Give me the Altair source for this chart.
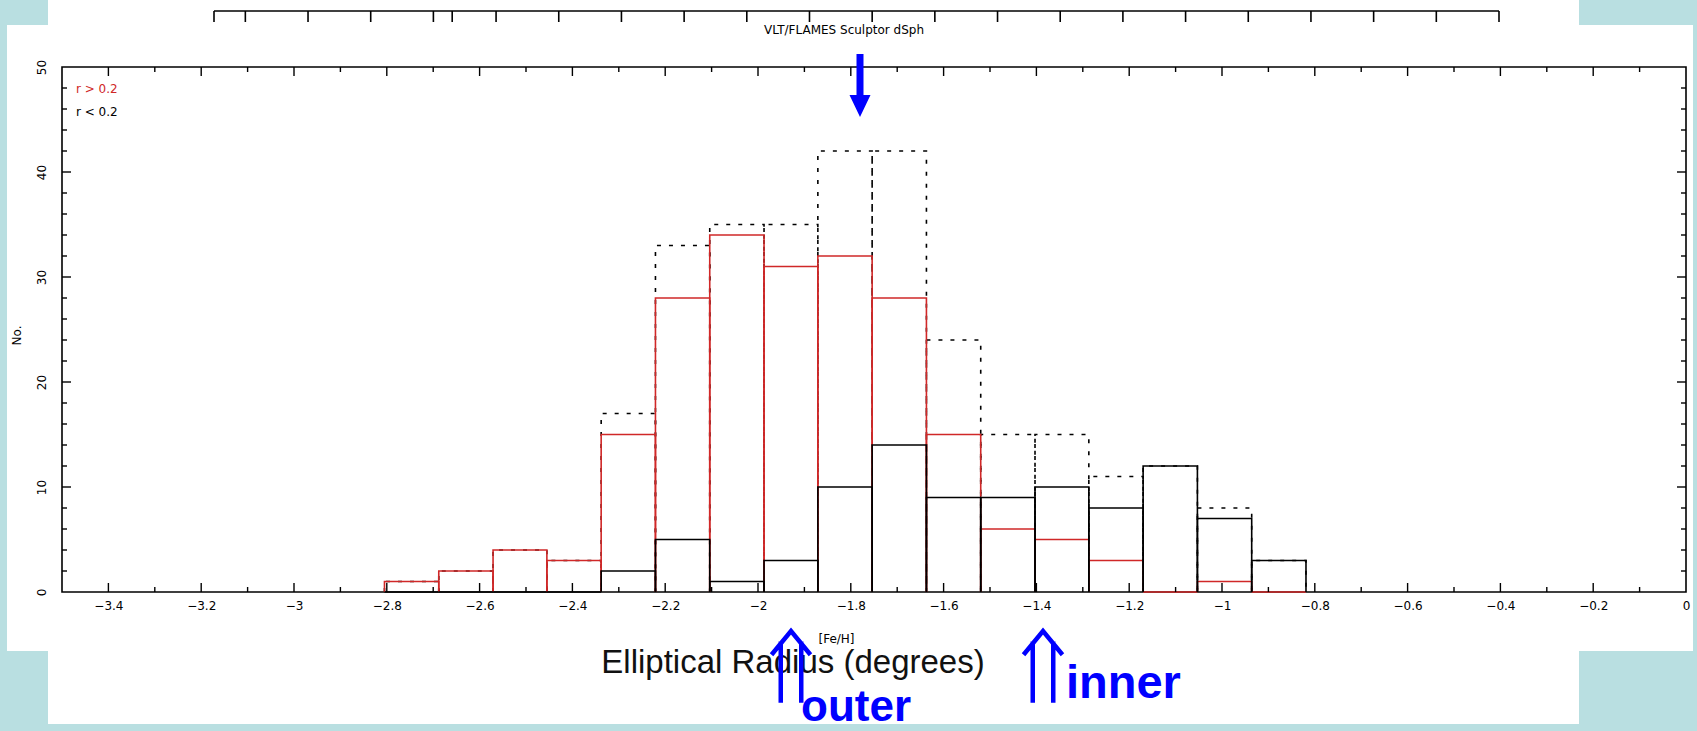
import altair as alt
import pandas as pd

# ---------------- values ----------------
bin_edges = [-2.805, -2.688, -2.571, -2.455, -2.338, -2.221, -2.104, -1.987,
             -1.871, -1.754, -1.637, -1.520, -1.403, -1.287, -1.170, -1.053,
             -0.936, -0.819]
counts_outer = [1, 2, 4, 3, 15, 28, 34, 31, 32, 28, 15, 6, 5, 3, 0, 1, 0]       # r > 0.2 (red)
counts_inner = [0, 0, 0, 0, 2, 5, 1, 3, 10, 14, 9, 9, 10, 8, 12, 7, 3]          # r < 0.2 (black)
counts_total = [1, 2, 4, 3, 17, 33, 35, 35, 42, 42, 24, 15, 15, 11, 12, 8, 3]   # all stars (dotted)

x_label_values = [-3.4, -3.2, -3.0, -2.8, -2.6, -2.4, -2.2, -2.0, -1.8, -1.6,
                  -1.4, -1.2, -1.0, -0.8, -0.6, -0.4, -0.2, 0.0]
x_major_ticks = [-3.4, -3.2, -3.0, -2.8, -2.6, -2.4, -2.2, -2.0, -1.8, -1.6,
                 -1.4, -1.2, -1.0, -0.8, -0.6, -0.4, -0.2]
x_minor_ticks = [-3.3, -3.1, -2.9, -2.7, -2.5, -2.3, -2.1, -1.9, -1.7, -1.5,
                 -1.3, -1.1, -0.9, -0.7, -0.5, -0.3, -0.1]
y_label_values = [0, 10, 20, 30, 40, 50]
y_major_ticks = [10, 20, 30, 40]
y_minor_ticks = [2, 4, 6, 8, 12, 14, 16, 18, 22, 24, 26, 28, 32, 34, 36, 38,
                 42, 44, 46, 48]
# cropped elliptical-radius axis at the very top (labels cut off)
radius_ticks = [0, 0.5, 1.5, 2.5, 3.5, 3.8, 4.5, 5.5, 6.5, 7.5, 8.5, 9.5, 10.5,
                11.5, 12.5, 13.5, 14.5, 15.5, 16.5, 17.5, 18.5, 19.5, 20.5]

legend_outer = "r > 0.2"
legend_inner = "r < 0.2"
plot_title = "VLT/FLAMES Sculptor dSph"
x_title = "[Fe/H]"
y_title = "No."

# ---------------- layout / style ----------------
W, H = 1624, 525
BG = "#b9dfe1"
RED = "#d02828"
BLUE = "#0000ff"
FONT = "DejaVu Sans"

xs = alt.Scale(domain=[-3.5, 0], nice=False, zero=False)
ys = alt.Scale(domain=[0, 50], nice=False, zero=False)


def steps(counts):
    rows = []
    for i, c in enumerate(counts):
        lo, hi = bin_edges[i], bin_edges[i + 1]
        for k, (xx, yy) in enumerate([(lo, 0), (lo, c), (hi, c), (hi, 0)]):
            rows.append({"x": xx, "y": yy, "bin": i, "k": k})
    return pd.DataFrame(rows)


one = pd.DataFrame({"d": [0]})

# white panels on the light-blue slide
panel1 = alt.Chart(one).mark_rect(color="white").encode(
    x=alt.value(-14), x2=alt.value(1517), y=alt.value(-67), y2=alt.value(657))
panel2 = alt.Chart(one).mark_rect(color="white").encode(
    x=alt.value(-55), x2=alt.value(1631), y=alt.value(-42), y2=alt.value(584))

# top cropped axis
rad_df = pd.DataFrame({"r": radius_ticks})
rs = alt.Scale(domain=[0, 20.5], range=[152, 1437], nice=False, zero=False)
top_line = alt.Chart(rad_df).mark_rule(color="black", strokeWidth=1.6).encode(
    x=alt.X("min(r):Q", scale=rs, axis=None), x2="max(r):Q", y=alt.value(-56))
top_ticks = alt.Chart(rad_df).mark_rule(color="black", strokeWidth=1.6).encode(
    x=alt.X("r:Q", scale=rs, axis=None), y=alt.value(-56), y2=alt.value(-45))

# frame
frame = alt.Chart(one).mark_rect(fillOpacity=0, stroke="black", strokeWidth=1.6).encode(
    x=alt.value(0), x2=alt.value("width"), y=alt.value(0), y2=alt.value("height"))


def hist_layer(counts, color, dash=None, with_axes=False):
    kw = dict(color=color, strokeWidth=1.6, strokeCap="butt")
    if dash:
        kw["strokeDash"] = dash
    if with_axes:
        xax = alt.Axis(values=x_label_values, format="~g", ticks=False, domain=False,
                       grid=False, labelFont=FONT, labelFontSize=12, labelColor="black",
                       labelPadding=8, labelFlush=False, labelOverlap=False,
                       title=x_title, titleFont=FONT, titleFontSize=12,
                       titleFontWeight="normal", titleColor="black",
                       titleX=774, titleY=46, titleBaseline="middle", zindex=1)
        yax = alt.Axis(values=y_label_values, ticks=False, domain=False, grid=False,
                       labelFont=FONT, labelFontSize=12, labelColor="black",
                       labelAngle=270, labelAlign="center", labelBaseline="bottom",
                       labelPadding=14, labelFlush=False, labelOverlap=False,
                       title=y_title, titleFont=FONT, titleFontSize=12,
                       titleFontWeight="normal", titleColor="black", titleAngle=270,
                       titleX=-46, titleY=268, titleAlign="center",
                       titleBaseline="middle", zindex=1)
    else:
        xax = None
        yax = None
    return alt.Chart(steps(counts)).mark_line(**kw).encode(
        x=alt.X("x:Q", scale=xs, axis=xax),
        y=alt.Y("y:Q", scale=ys, axis=yax),
        detail="bin:N",
        order="k:Q",
    )


dotted = hist_layer(counts_total, "black", dash=[4, 8])
red = hist_layer(counts_outer, RED)
black = hist_layer(counts_inner, "black", with_axes=True)


def xtick(vals, y0, y1):
    return alt.Chart(pd.DataFrame({"v": vals})).mark_rule(color="black", strokeWidth=1.4).encode(
        x=alt.X("v:Q", scale=xs, axis=None), y=alt.value(y0), y2=alt.value(y1))


def ytick(vals, x0, x1):
    return alt.Chart(pd.DataFrame({"v": vals})).mark_rule(color="black", strokeWidth=1.4).encode(
        y=alt.Y("v:Q", scale=ys, axis=None), x=alt.value(x0), x2=alt.value(x1))


ticks = [
    xtick(x_major_ticks, H, H - 9), xtick(x_minor_ticks, H, H - 5),
    xtick(x_major_ticks, 0, 9), xtick(x_minor_ticks, 0, 5),
    ytick(y_major_ticks, 0, 9), ytick(y_minor_ticks, 0, 5),
    ytick(y_major_ticks, W, W - 9), ytick(y_minor_ticks, W, W - 5),
]

title_t = alt.Chart(one).mark_text(text=plot_title, font=FONT, fontSize=12, color="black",
                                   align="center", baseline="middle").encode(
    x=alt.value(782), y=alt.value(-37))
leg1 = alt.Chart(one).mark_text(text=legend_outer, font=FONT, fontSize=12, color=RED,
                                align="left", baseline="middle").encode(
    x=alt.value(14), y=alt.value(22))
leg2 = alt.Chart(one).mark_text(text=legend_inner, font=FONT, fontSize=12, color="black",
                                align="left", baseline="middle").encode(
    x=alt.value(14), y=alt.value(45))

# slide annotations
ell = alt.Chart(one).mark_text(text="Elliptical Radius (degrees)", font="Liberation Sans",
                               fontSize=33, color="#111111", align="center",
                               baseline="alphabetic").encode(
    x=alt.value(731), y=alt.value(606))
outer_t = alt.Chart(one).mark_text(text="outer", font="Liberation Sans", fontSize=44,
                                   fontWeight="bold", color=BLUE, align="center",
                                   baseline="alphabetic").encode(
    x=alt.value(794), y=alt.value(654))
inner_t = alt.Chart(one).mark_text(text="inner", font="Liberation Sans", fontSize=47,
                                   fontWeight="bold", color=BLUE, align="left",
                                   baseline="alphabetic").encode(
    x=alt.value(1004), y=alt.value(631))

down_arrow_shape = "M-0.333,-3L0.333,-3L0.333,0.905L1,0.905L0,3L-1,0.905L-0.333,0.905Z"
down_arrow = alt.Chart(one).mark_point(shape=down_arrow_shape, size=441, filled=True,
                                       color=BLUE, opacity=1, strokeWidth=0).encode(
    x=alt.value(798), y=alt.value(18.5))

dbl_up_shape = "M-1.9,-1.2L0,-3.5L1.9,-1.2M-1,-2.5L-1,3.5M1,-2.5L1,3.5"
up1 = alt.Chart(one).mark_point(shape=dbl_up_shape, size=420, filled=False, color=BLUE,
                                opacity=1, strokeWidth=4.5).encode(
    x=alt.value(729), y=alt.value(600))
up2 = alt.Chart(one).mark_point(shape=dbl_up_shape, size=420, filled=False, color=BLUE,
                                opacity=1, strokeWidth=4.5).encode(
    x=alt.value(981), y=alt.value(600))

chart = alt.layer(
    panel1, panel2, top_line, top_ticks, frame, dotted, red, black, *ticks,
    title_t, leg1, leg2, ell, up1, up2, outer_t, inner_t, down_arrow,
).resolve_scale(x="independent", y="independent").properties(
    width=W, height=H,
    padding={"left": 62, "top": 67, "right": 11, "bottom": 139},
    autosize=alt.AutoSizeParams(type="none"),
).configure(background=BG).configure_view(stroke="transparent")

chart.save("out.html", embed_options={"renderer": "svg", "actions": False})
